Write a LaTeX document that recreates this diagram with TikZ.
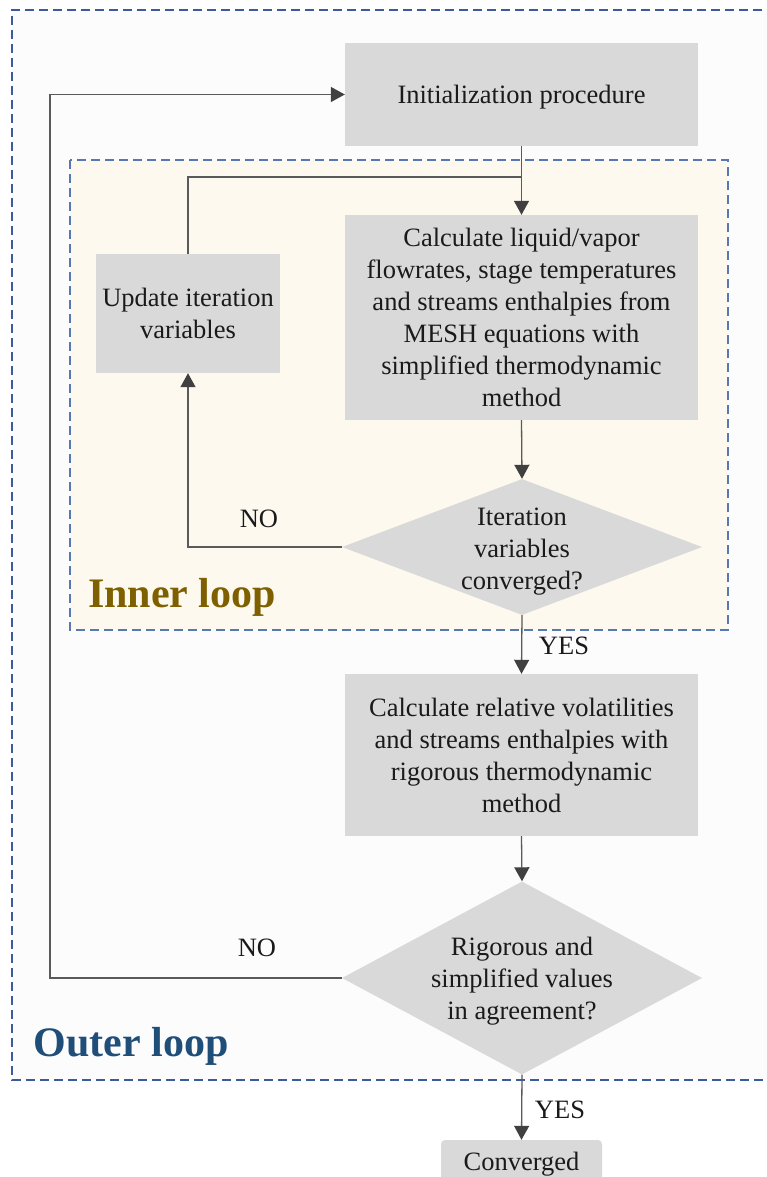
\documentclass[tikz,border=0pt]{standalone}
\usepackage{fontspec}
\setmainfont{Liberation Serif}
\usetikzlibrary{shapes.geometric,arrows.meta}

\definecolor{boxgray}{HTML}{D9D9D9}
\definecolor{linecol}{HTML}{5A5A5A}
\definecolor{tipcol}{HTML}{404040}
\definecolor{cream}{HTML}{FDF9EE}
\definecolor{outerblue}{HTML}{3A5C9C}
\definecolor{innerblue}{HTML}{5878B4}
\definecolor{innerlbl}{HTML}{7F6000}
\definecolor{outerlbl}{HTML}{1F4E79}
\definecolor{txt}{HTML}{1A1A1A}

\tikzset{
  base/.style={font=\fontsize{26.5}{32}\selectfont, text=txt, align=center, inner sep=0pt},
  procbox/.style={base, rectangle, fill=boxgray},
  decision/.style={diamond, fill=boxgray, inner sep=0pt, shape aspect=1},
  arr/.style={draw=linecol, line width=1.3pt, -{Triangle[length=14pt,width=15pt,color=tipcol]}},
  link/.style={draw=linecol, line width=1.3pt},
  lbl/.style={base},
  looplbl/.style={font=\fontsize{42}{46}\selectfont\bfseries, inner sep=0pt},
  loopframe/.style={line width=1.2pt, dash pattern=on 9pt off 5pt},
}

\begin{document}
\begin{tikzpicture}[x=1pt,y=-1pt]
\useasboundingbox (0,0) rectangle (766,1177);

% outer loop frame (open to the right edge)
\fill[fill={rgb,255:red,252;green,252;blue,252}] (12,10) rectangle (790,1080);
\draw[loopframe, draw=outerblue] (790,10) -- (12,10) -- (12,1080) -- (790,1080);

% inner loop frame
\draw[loopframe, draw=innerblue, fill=cream] (70,160) rectangle (728,630);

% process steps
\node[procbox, text height=19pt, text depth=0pt, minimum width=353pt, minimum height=103pt] (init) at (521.5,94.5)
  {Initialization procedure};
\node[procbox, minimum width=353pt, minimum height=205pt] (calc) at (521.5,317.5)
  {Calculate liquid/vapor\\flowrates, stage temperatures\\and streams enthalpies from\\MESH equations with\\simplified thermodynamic\\method};
\node[procbox, minimum width=184pt, minimum height=119pt] (upd) at (188,313.5)
  {Update iteration\\variables};
\node[procbox, minimum width=353pt, minimum height=162pt] (rel) at (521.5,755)
  {Calculate relative volatilities\\and streams enthalpies with\\rigorous thermodynamic\\method};
\node[procbox, rounded corners=4pt, minimum width=161pt, minimum height=48pt] (conv) at (521.5,1164)
  {Converged};

% decisions: fixed-size diamonds with their questions set on top
\node[decision, minimum width=360pt, minimum height=136pt] (d1) at (522,547) {};
\node[base] (d1text) at (522,552) {Iteration\\variables\\converged?};
\node[decision, minimum width=360pt, minimum height=193pt] (d2) at (522,978) {};
\node[base] (d2text) at (522,981) {Rigorous and\\simplified values\\in agreement?};

% loop labels
\node[looplbl, text=innerlbl] (innerlabel) at (182,597) {Inner loop};
\node[looplbl, text=outerlbl] (outerlabel) at (131,1046) {Outer loop};

% connectors
\coordinate (join) at (521.5,177);
\draw[arr] (init.south) -- (calc.north);
\draw[link] (upd.north) |- (join);
\draw[arr] (calc.south) -- (d1.north);
\draw[arr] (d1.west) -| (upd.south);
\draw[arr] (d1.south) -- (rel.north);
\draw[arr] (rel.south) -- (d2.north);
\coordinate (outerturn) at (50,978);
\draw[arr] (d2.west) -- (outerturn) |- (init.west);
\draw[arr] (d2.south) -- (conv.north);

% branch labels
\node[lbl] (no1) at (259,519) {NO};
\node[lbl] (no2) at (257,948) {NO};
\node[lbl] (yes1) at (564,646) {YES};
\node[lbl] (yes2) at (560,1110) {YES};
\end{tikzpicture}
\end{document}
